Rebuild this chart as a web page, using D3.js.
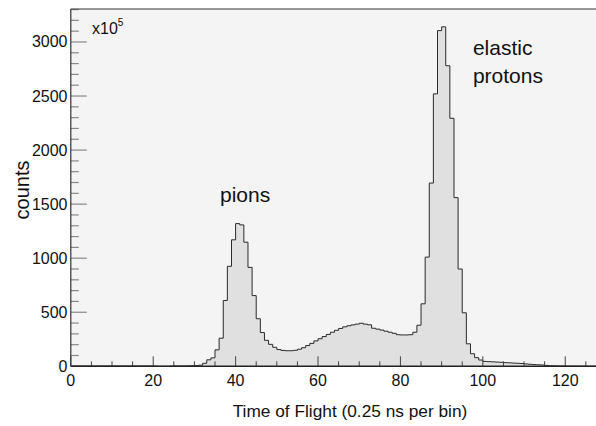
<!DOCTYPE html>
<html><head><meta charset="utf-8">
<script src="https://cdn.jsdelivr.net/npm/d3@7"></script>
<style>
html,body{margin:0;padding:0;background:#fff;}
svg{display:block;font-family:"Liberation Sans",Arial,Helvetica,sans-serif;}
</style></head>
<body>
<svg id="chart" width="596" height="426"></svg>
<script>
// Histogram: bins of width 1 starting at binStart
const binStart = 0;
const counts = [
  3,3,3,3,3,3,3,3,3,3,
  3,3,3,3,3,3,3,3,3,3,
  2,0,0,0,2,3,3,3,4,5,
  6,10,28,60,78,152,260,609,925,1170,
  1320,1308,1148,915,654,440,312,240,203,176,
  155,147,144,144,148,158,172,192,212,235,
  255,275,295,315,333,350,365,375,383,390,
  398,390,384,352,344,335,325,315,305,292,
  290,290,292,315,380,578,1010,1695,2520,3105,
  3140,2780,2294,1560,900,495,208,116,80,58,
  45,43,41,39,37,34,32,30,28,26,
  22,19,16,14,12,8,5,4,3,3,
  2,2,2,1,1,1,1,1
];
const xMajorTicks = [0,20,40,60,80,100,120];
const yMajorTicks = [0,500,1000,1500,2000,2500,3000];
const xDomain = [0,128];
const yDomain = [0,3305];
const xTitle = "Time of Flight (0.25 ns per bin)";
const yTitle = "counts";
const annotations = [
  {text:"pions", x:42.3, y:1520, anchor:"middle"},
  {text:"elastic", x:97.6, y:2880, anchor:"start"},
  {text:"protons", x:97.6, y:2620, anchor:"start"}
];

const svg = d3.select("#chart");
const x = d3.scaleLinear().domain(xDomain).range([70.8, 598.2]);
const y = d3.scaleLinear().domain(yDomain).range([366.3, 9]);

// frame background
svg.append("rect")
  .attr("x", x(0)).attr("y", y(yDomain[1]))
  .attr("width", x(xDomain[1]) - x(0)).attr("height", y(0) - y(yDomain[1]))
  .attr("fill", "#f4f4f4");

// histogram
const pts = counts.map((c,i)=>({x:binStart+i, c}));
pts.push({x:binStart+counts.length, c:counts[counts.length-1]});
const area = d3.area().curve(d3.curveStepAfter)
  .x(d=>x(d.x)).y0(y(0)).y1(d=>y(d.c));
const line = d3.line().curve(d3.curveStepAfter)
  .x(d=>x(d.x)).y(d=>y(d.c));
svg.append("path").datum(pts).attr("d", area).attr("fill", "#e0e0e0");
svg.append("path").datum(pts).attr("d", line)
  .attr("fill","none").attr("stroke","#2a2a2a").attr("stroke-width",1);

// x ticks (inside, pointing up)
const xMinor = d3.range(0, 126, 5).filter(v=>!xMajorTicks.includes(v));
const gx = svg.append("g");
gx.selectAll("line.maj").data(xMajorTicks).join("line")
  .attr("x1",d=>x(d)).attr("x2",d=>x(d)).attr("y1",y(0)).attr("y2",y(0)-10)
  .attr("stroke","#444").attr("stroke-width",1);
gx.selectAll("line.min").data(xMinor).join("line")
  .attr("x1",d=>x(d)).attr("x2",d=>x(d)).attr("y1",y(0)).attr("y2",y(0)-5)
  .attr("stroke","#444").attr("stroke-width",1);
gx.selectAll("text").data(xMajorTicks).join("text")
  .attr("x",d=>x(d)).attr("y",386).attr("text-anchor","middle")
  .attr("font-size",16).attr("fill","#111").text(d=>d);

// y ticks (inside, pointing right)
const yMinor = d3.range(0, 3301, 100).filter(v=>!yMajorTicks.includes(v));
const gy = svg.append("g");
gy.selectAll("line.maj").data(yMajorTicks).join("line")
  .attr("x1",x(0)).attr("x2",x(0)+16).attr("y1",d=>y(d)).attr("y2",d=>y(d))
  .attr("stroke","#888").attr("stroke-width",1.2);
gy.selectAll("line.min").data(yMinor).join("line")
  .attr("x1",x(0)).attr("x2",x(0)+8).attr("y1",d=>y(d)).attr("y2",d=>y(d))
  .attr("stroke","#888").attr("stroke-width",1.2);
gy.selectAll("text").data(yMajorTicks).join("text")
  .attr("x",67.5).attr("y",d=>y(d)+5.5).attr("text-anchor","end")
  .attr("font-size",16).attr("fill","#111").text(d=>d);

// frame lines
svg.append("line").attr("x1",x(0)).attr("x2",596).attr("y1",y(yDomain[1])).attr("y2",y(yDomain[1]))
  .attr("stroke","#333").attr("stroke-width",1.2);
svg.append("line").attr("x1",x(0)).attr("x2",x(0)).attr("y1",y(yDomain[1])).attr("y2",y(0))
  .attr("stroke","#333").attr("stroke-width",1.2);
svg.append("line").attr("x1",x(0)).attr("x2",596).attr("y1",y(0)).attr("y2",y(0))
  .attr("stroke","#222").attr("stroke-width",1.4);

// exponent label
const ex = svg.append("text").attr("x",92).attr("y",34).attr("font-size",16).attr("fill","#111");
ex.append("tspan").text("x10");
ex.append("tspan").attr("dy",-8).attr("font-size",10).text("5");

// axis titles
svg.append("text").attr("x",350).attr("y",417).attr("text-anchor","middle")
  .attr("font-size",17.3).attr("fill","#111").text(xTitle);
svg.append("text").attr("transform","translate(29,190) rotate(-90)")
  .attr("text-anchor","middle").attr("font-size",20).attr("fill","#111").text(yTitle);

// annotations
svg.selectAll("text.ann").data(annotations).join("text")
  .attr("class","ann")
  .attr("x",d=>x(d.x)).attr("y",d=>y(d.y)).attr("text-anchor",d=>d.anchor)
  .attr("font-size",21).attr("fill","#111").text(d=>d.text);
</script>
</body></html>
